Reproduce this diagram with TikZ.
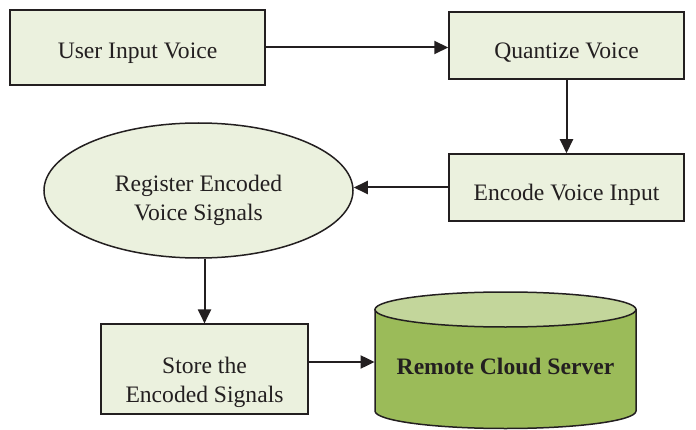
\documentclass[tikz,border=0pt]{standalone}
\usepackage{fontspec}
\setmainfont{Liberation Serif}
\usetikzlibrary{positioning,shapes.geometric,arrows.meta,backgrounds}
\definecolor{boxfill}{HTML}{EBF1DE}
\definecolor{cylbody}{HTML}{9BBB59}
\definecolor{cyltop}{HTML}{C3D69B}
\definecolor{ink}{HTML}{231F20}

\begin{document}
\begin{tikzpicture}[node distance={70pt},
	main/.style = {draw=ink, line width=0.75pt, fill=boxfill, text=ink, align=center, font=\fontsize{11.8}{14.5}\selectfont},
	flow/.style = {draw=ink, line width=1pt, -{Triangle[length=7pt,width=6.5pt]}}]
	\useasboundingbox (0,0) rectangle (348pt,214.5pt);
	
	\node[main, minimum width=127.5pt, minimum height=37.5pt, text height=13.6pt] (1) at (68.75pt,190.75pt) {User Input Voice};
	
	\node[main, minimum width=117.5pt, minimum height=33.5pt, text height=15.3pt] (2) [xshift=144.5pt, yshift=1pt, right of=1] {Quantize Voice};
	\node[main, minimum width=117.5pt, minimum height=33.5pt, text height=15.6pt] (3) [yshift=-1pt, below of=2] {Encode Voice Input};
	
	\node[main, ellipse, minimum width=154.5pt, minimum height=67.5pt] (4) [xshift=-114pt, yshift=-1.5pt, left of=3] {\rule{0pt}{17.6pt}Register Encoded\\Voice Signals};
	\node[main, minimum width=103.5pt, minimum height=44pt] (5) [xshift=3pt, yshift=-19.25pt, below of=4] {\rule{0pt}{21.1pt}Store the\\Encoded Signals};
	
	\node (6) [xshift=80.5pt, yshift=1.5pt, right of=5, minimum width=130.5pt, text=ink, font=\fontsize{11.8}{14.5}\selectfont\bfseries] {Remote Cloud Server};
	
	\begin{scope}[on background layer]
		\filldraw[draw=ink, line width=0.75pt, fill=cylbody] ([shift={(-65.25pt,28.25pt)}]6.center) -- ([shift={(-65.25pt,-22.5pt)}]6.center) arc[start angle=180, end angle=360, x radius=65.25pt, y radius=8.75pt] -- ([shift={(65.25pt,28.25pt)}]6.center) -- cycle;
		\filldraw[draw=ink, line width=0.75pt, fill=cyltop] ([yshift=28.25pt]6.center) ellipse [x radius=65.25pt, y radius=8.75pt];
	\end{scope}
	
	\draw[flow] (1.east) -- (1.east -| 2.west);
	\draw[flow] (2.south) -- (3.north);
	\draw[flow] (3.west) -- (3.west -| 4.east);
	\draw[flow] (4.south -| 5.north) -- (5.north);
	\draw[flow] ([yshift=3.5pt]5.east) -- ([yshift=3.5pt]5.east -| 6.west);
	
\end{tikzpicture}
\end{document}
